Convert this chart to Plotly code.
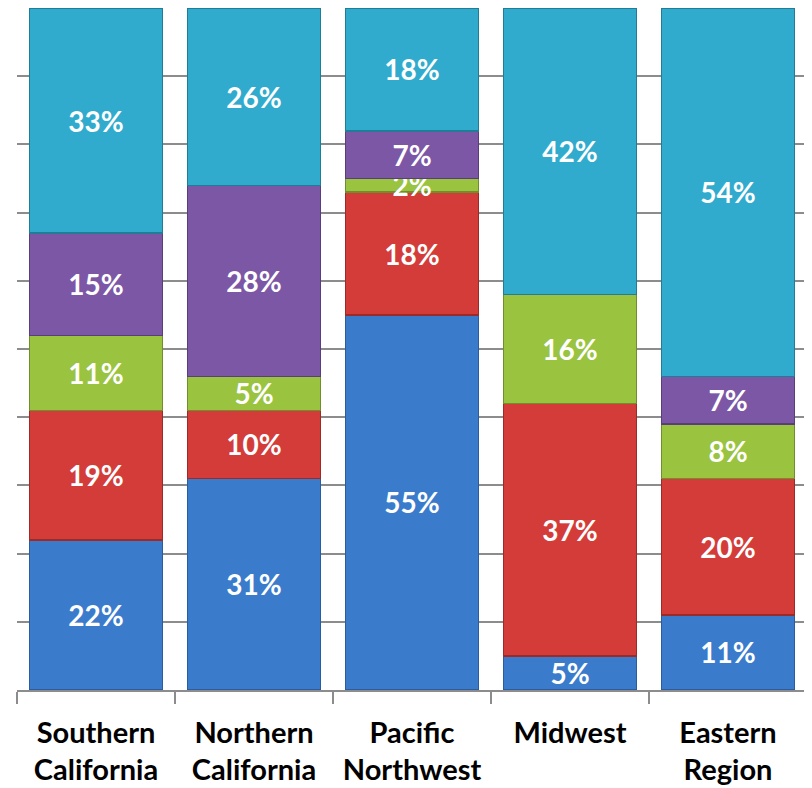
import plotly.graph_objects as go

categories = ["Southern<br>California", "Northern<br>California", "Pacific<br>Northwest", "Midwest", "Eastern<br>Region"]
series_names = ["Blue", "Red", "Green", "Purple", "Teal"]
blue = [22, 31, 55, 5, 11]
red = [19, 10, 18, 37, 20]
green = [11, 5, 2, 16, 8]
purple = [15, 28, 7, 0, 7]
teal = [33, 26, 18, 42, 54]

all_values = [blue, red, green, purple, teal]
fills = ["#3B7BCC", "#D33C38", "#9AC340", "#7C57A6", "#31ABCD"]
edges = ["#2A5C9E", "#9E2A27", "#6E8F2C", "#5A3E7C", "#217C96"]

fig = go.Figure()
for name, vals, fc, ec in zip(series_names, all_values, fills, edges):
    fig.add_trace(go.Bar(
        x=categories,
        y=[v / 100 for v in vals],
        name=name,
        text=[f"{v}%" if v > 0 else "" for v in vals],
        textposition="inside",
        insidetextanchor="middle",
        constraintext="none",
        textangle=0,
        textfont=dict(family="Lato", size=28, color="white", weight="bold"),
        marker=dict(color=fc, line=dict(color=ec, width=1.5)),
        hoverinfo="skip",
    ))

fig.update_layout(
    barmode="stack",
    bargap=0.16,
    width=812,
    height=788,
    margin=dict(l=9, r=13, t=0, b=106),
    paper_bgcolor="white",
    plot_bgcolor="white",
    showlegend=False,
    xaxis=dict(
        showline=True, linecolor="#8C8C8C", linewidth=1.5,
        ticks="outside", ticklen=12, tickcolor="#8C8C8C", tickwidth=1.5,
        tickson="boundaries", ticklabelstandoff=16,
        tickfont=dict(family="Lato", size=29, color="black", weight="bold"),
        showgrid=False,
    ),
    yaxis=dict(
        range=[0, 1], dtick=0.1, showticklabels=False,
        showgrid=True, gridcolor="#8C8C8C", gridwidth=1.5,
        zeroline=False, showline=False,
    ),
)

fig.write_html("out.html")
